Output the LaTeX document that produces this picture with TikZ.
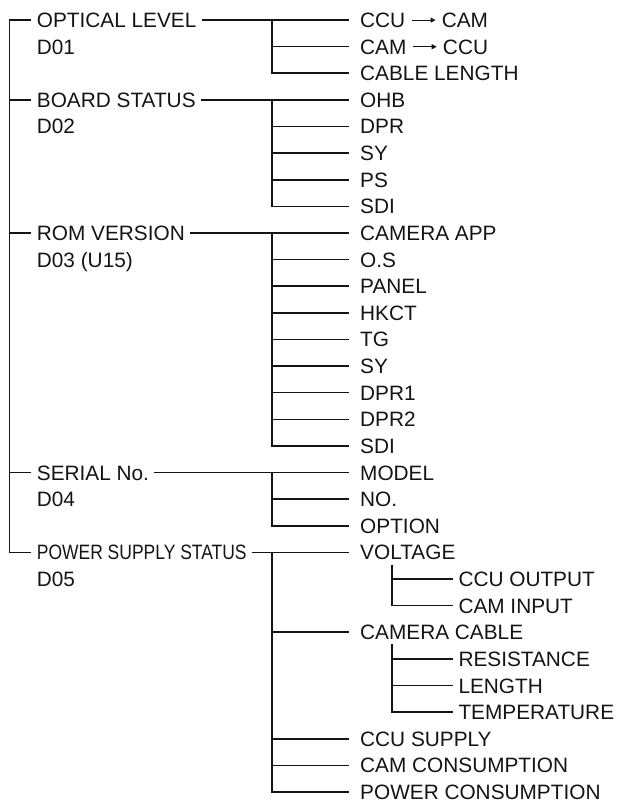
\documentclass[tikz,border=0pt]{standalone}
\usepackage{fontspec}
\setmainfont{Liberation Sans}
\usetikzlibrary{calc,arrows.meta}
\newcommand{\rowy}[1]{20+26.62*#1}
\newcommand{\arr}{\tikz[baseline=-7.4pt]\draw[line width=1pt,-{Triangle[length=5pt,width=5pt]}] (0pt,0pt) -- (24pt,0pt);}
\begin{document}
\begin{tikzpicture}[x=1pt,y=-1pt,
  lab/.style={anchor=west, inner sep=0pt, text height=15pt, text depth=0pt,
              font=\fontsize{20.8}{24}\selectfont, text=black!92},
  ln/.style={line width=1.6pt, draw=black!92}]
\useasboundingbox (0,0) rectangle (617,803);

% level 1 labels
\node[lab] (l1) at (36.7,{\rowy{0}}) {OPTICAL LEVEL};
\node[lab] (d1) at (36.7,{\rowy{1}}) {D01};
\node[lab] (l2) at (36.7,{\rowy{3}}) {BOARD STATUS};
\node[lab] (d2) at (36.7,{\rowy{4}}) {D02};
\node[lab] (l3) at (36.7,{\rowy{8}}) {ROM VERSION};
\node[lab] (d3) at (36.7,{\rowy{9}}) {D03 (U15)};
\node[lab] (l4) at (36.7,{\rowy{17}}) {SERIAL No.};
\node[lab] (d4) at (36.7,{\rowy{18}}) {D04};
\node[lab] (l5) at (36.7,{\rowy{20}}) {\scalebox{0.84}[1]{POWER SUPPLY STATUS}};
\node[lab] (d5) at (36.7,{\rowy{21}}) {D05};

% level 2 labels
\node[lab] (a1) at (360,{\rowy{0}}) {CCU \arr{} CAM};
\node[lab] (a2) at (360,{\rowy{1}}) {CAM \arr{} CCU};
\node[lab] (a3) at (360,{\rowy{2}}) {CABLE LENGTH};
\node[lab] (b1) at (360,{\rowy{3}}) {OHB};
\node[lab] (b2) at (360,{\rowy{4}}) {DPR};
\node[lab] (b3) at (360,{\rowy{5}}) {SY};
\node[lab] (b4) at (360,{\rowy{6}}) {PS};
\node[lab] (b5) at (360,{\rowy{7}}) {SDI};
\node[lab] (r1) at (360,{\rowy{8}}) {CAMERA APP};
\node[lab] (r2) at (360,{\rowy{9}}) {O.S};
\node[lab] (r3) at (360,{\rowy{10}}) {PANEL};
\node[lab] (r4) at (360,{\rowy{11}}) {HKCT};
\node[lab] (r5) at (360,{\rowy{12}}) {TG};
\node[lab] (r6) at (360,{\rowy{13}}) {SY};
\node[lab] (r7) at (360,{\rowy{14}}) {DPR1};
\node[lab] (r8) at (360,{\rowy{15}}) {DPR2};
\node[lab] (r9) at (360,{\rowy{16}}) {SDI};
\node[lab] (s1) at (360,{\rowy{17}}) {MODEL};
\node[lab] (s2) at (360,{\rowy{18}}) {NO.};
\node[lab] (s3) at (360,{\rowy{19}}) {OPTION};
\node[lab] (p1) at (360,{\rowy{20}}) {VOLTAGE};
\node[lab] (p2) at (360,{\rowy{23}}) {CAMERA CABLE};
\node[lab] (p3) at (360,{\rowy{27}}) {CCU SUPPLY};
\node[lab] (p4) at (360,{\rowy{28}}) {CAM CONSUMPTION};
\node[lab] (p5) at (360,{\rowy{29}}) {POWER CONSUMPTION};

% level 3 labels
\node[lab] (v1) at (458.3,{\rowy{21}}) {CCU OUTPUT};
\node[lab] (v2) at (458.3,{\rowy{22}}) {CAM INPUT};
\node[lab] (k1) at (458.3,{\rowy{24}}) {RESISTANCE};
\node[lab] (k2) at (458.3,{\rowy{25}}) {LENGTH};
\node[lab] (k3) at (458.3,{\rowy{26}}) {TEMPERATURE};

\coordinate (tr) at (9.3,0);
\coordinate (br) at (271.7,0);
\coordinate (sb) at (391.7,0);

% trunk
\draw[ln] ([xshift=-6pt]l1.west) -- (tr |- l1.west) -- (tr |- l5.west) -- ([xshift=-6pt]l5.west);
\foreach \n in {l2,l3,l4} \draw[ln] (tr |- \n.west) -- ([xshift=-6pt]\n.west);

% level 1 -> level 2
\foreach \p/\f/\l in {l1/a1/a3, l2/b1/b5, l3/r1/r9, l4/s1/s3, l5/p1/p5} {
  \draw[ln] ([xshift=5pt]\p.east) -- ([xshift=-10.7pt]\f.west);
  \draw[ln] (br |- \f.west) -- (br |- \l.west) -- ([xshift=-10.7pt]\l.west);
}
\foreach \c in {a2, b2,b3,b4, r2,r3,r4,r5,r6,r7,r8, s2, p2,p3,p4}
  \draw[ln] (br |- \c.west) -- ([xshift=-10.7pt]\c.west);

% level 2 -> level 3
\draw[ln] ([yshift=-4.5pt]sb |- p1.south) -- (sb |- v2.west) -- ([xshift=-5pt]v2.west);
\draw[ln] (sb |- v1.west) -- ([xshift=-5pt]v1.west);
\draw[ln] ([yshift=-4.5pt]sb |- p2.south) -- (sb |- k3.west) -- ([xshift=-5pt]k3.west);
\foreach \c in {k1,k2} \draw[ln] (sb |- \c.west) -- ([xshift=-5pt]\c.west);
\end{tikzpicture}
\end{document}
